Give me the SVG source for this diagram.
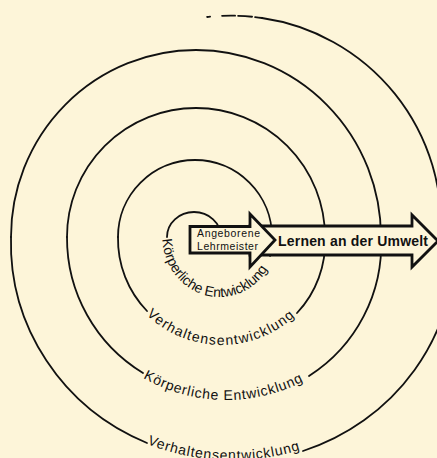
<svg xmlns="http://www.w3.org/2000/svg" width="437" height="458" viewBox="0 0 437 458">
<style>
.bg{fill:#fdf5d9}
.sp{fill:none;stroke:#111;stroke-width:1.8;stroke-linecap:round}
.ar{fill:#fdf5d9;stroke:#111;stroke-width:2.8;stroke-linejoin:miter}
.cl{font-family:"Liberation Sans",Arial,sans-serif;font-size:14px;fill:#111}
.al{font-family:"Liberation Sans",Arial,sans-serif;fill:#111}
</style>
<defs>
<path id="t1" d="M162.5,239.1 A57,60 0 0 0 269.8,265.2"/>
<path id="t2" d="M146.5,314.7 A108,108 0 0 0 296.5,314.7"/>
<path id="t3" d="M143,378 A168.6,168.6 0 0 0 306,380"/>
<path id="t4" d="M147,444 A226,219.5 0 0 0 303,449"/>
</defs>
<rect class="bg" x="0" y="0" width="437" height="458"/>
<g id="spiral">
<path class="sp" d="M221,237 A27,25 0 0 0 167,237"/>
<path class="sp" d="M270,256 A52.5,56 0 0 0 272,237"/>
<path class="sp" d="M272,237 A77,77 0 0 0 118,237"/>
<path class="sp" d="M118,237 A103.5,103.5 0 0 0 147,311"/>
<path class="sp" d="M297,313 A103.5,103.5 0 0 0 325,237"/>
<path class="sp" d="M325,237 A129,129 0 0 0 67,237"/>
<path class="sp" d="M67,237 A158,158 0 0 0 143,373"/>
<path class="sp" d="M309,376 A156,156 0 0 0 381,237"/>
<path class="sp" d="M381,237 A185,187 0 0 0 11,237"/>
<path class="sp" d="M11,237 A222,217 0 0 0 147,443"/>
<path class="sp" d="M303,451 A222,217 0 0 0 455,240"/>
<path class="sp" d="M440.5,240 A209,209 0 0 0 262,18"/>
<path class="sp" d="M262,18 A209,209 0 0 0 207,17" stroke-dasharray="7 3 14 3 13 12 3 30" stroke-linecap="butt"/>
</g>
<g id="arrow-lernen">
<path class="ar" d="M250,226 H412 V215 L438,241 L412,267 V255 H250 Z"/>
<text class="al" x="278" y="245.5" font-size="14" font-weight="bold" textLength="150">Lernen an der Umwelt</text>
</g>
<g id="arrow-angeborene">
<path class="ar" d="M190,226.5 H250 V214 L275,240 L250,267 V253 H190 Z"/>
<text class="al" x="197" y="237" font-size="10.5" textLength="63">Angeborene</text>
<text class="al" x="197" y="249.5" font-size="10.5" textLength="61">Lehrmeister</text>
</g>
<g id="labels">
<text class="cl" font-size="11.5"><textPath href="#t1" textLength="148">Körperliche Entwicklung</textPath></text>
<text class="cl"><textPath href="#t2" textLength="163">Verhaltensentwicklung</textPath></text>
<text class="cl"><textPath href="#t3" textLength="167">Körperliche Entwicklung</textPath></text>
<text class="cl"><textPath href="#t4" textLength="156">Verhaltensentwicklung</textPath></text>
</g>
</svg>
